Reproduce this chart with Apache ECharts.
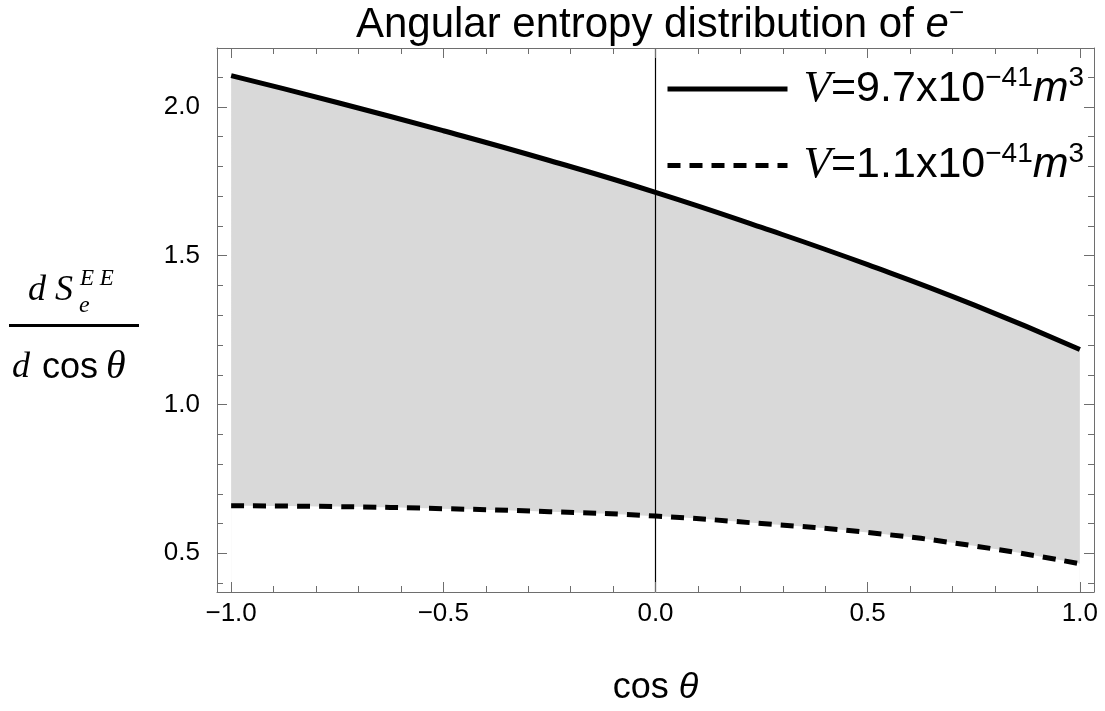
<!DOCTYPE html>
<html>
<head>
<meta charset="utf-8">
<script src="https://cdn.jsdelivr.net/npm/echarts@6/dist/echarts.min.js"></script>
<style>html,body{margin:0;padding:0;background:#fff}#c{width:1105px;height:711px}</style>
</head>
<body>
<div id="c"></div>
<script>
const xVals = [-1, -0.75, -0.5, -0.25, 0, 0.25, 0.5, 0.75, 1];
const upperV = [2.105, 2.015, 1.92, 1.82, 1.713, 1.595, 1.47, 1.335, 1.185];
const lowerV = [0.66, 0.657, 0.65, 0.64, 0.625, 0.60, 0.57, 0.525, 0.465];
const xMajor = [-1, -0.5, 0, 0.5, 1];
const xMinor = [-0.9, -0.8, -0.7, -0.6, -0.4, -0.3, -0.2, -0.1, 0.1, 0.2, 0.3, 0.4, 0.6, 0.7, 0.8, 0.9];
const yMajor = [0.5, 1.0, 1.5, 2.0];
const yMinor = [0.4, 0.6, 0.7, 0.8, 0.9, 1.1, 1.2, 1.3, 1.4, 1.6, 1.7, 1.8, 1.9, 2.1];
const seriesNames = ['solid', 'dashed'];

const XMIN = -1.0333, XMAX = 1.0333, YMIN = 0.37, YMAX = 2.198;
const frameColor = '#6e6e6e';
const chart = echarts.init(document.getElementById('c'));

function xAx(pos, ticks, len, showLine, labels) {
  return {
    type: 'value', position: pos, min: XMIN, max: XMAX, z: 6,
    axisLine: {show: showLine, onZero: false, lineStyle: {color: frameColor, width: 1}},
    axisTick: {show: true, inside: true, length: len, customValues: ticks, lineStyle: {color: frameColor, width: 1}},
    axisLabel: labels ? {show: true, customValues: ticks, margin: 9, color: '#000', fontSize: 26, fontFamily: 'Liberation Sans',
      formatter: v => v.toFixed(1).replace('-', '\u2212')} : {show: false},
    splitLine: {show: false}
  };
}
function yAx(pos, ticks, len, showLine, labels) {
  return {
    type: 'value', position: pos, min: YMIN, max: YMAX, z: 6,
    axisLine: {show: showLine, onZero: false, lineStyle: {color: frameColor, width: 1}},
    axisTick: {show: true, inside: true, length: len, customValues: ticks, lineStyle: {color: frameColor, width: 1}},
    axisLabel: labels ? {show: true, customValues: ticks, margin: 17, color: '#000', fontSize: 26, fontFamily: 'Liberation Sans',
      formatter: v => v.toFixed(1)} : {show: false},
    splitLine: {show: false}
  };
}

const xAxes = [xAx('bottom', xMajor, 10, true, true), xAx('bottom', xMinor, 6, false, false),
               xAx('top', xMajor, 10, true, false), xAx('top', xMinor, 6, false, false)];
xAxes[0].name = '{c|cos }{t|\u03b8}';
xAxes[0].nameLocation = 'middle';
xAxes[0].nameGap = 78;
xAxes[0].nameTextStyle = {rich: {
  c: {fontFamily: 'Liberation Sans', fontSize: 36, color: '#000'},
  t: {fontFamily: 'Liberation Sans', fontStyle: 'italic', fontSize: 36, color: '#000'}
}};
const yAxes = [yAx('left', yMajor, 10, true, true), yAx('left', yMinor, 6, false, false),
               yAx('right', yMajor, 10, true, false), yAx('right', yMinor, 6, false, false)];

const pts = arr => xVals.map((x, i) => [x, arr[i]]);

const legendRich = {
  v: {fontFamily: 'Liberation Serif', fontStyle: 'italic', fontSize: 45, color: '#000', lineHeight: 50},
  n: {fontFamily: 'Liberation Sans', fontSize: 43, color: '#000', lineHeight: 50},
  m: {fontFamily: 'Liberation Sans', fontStyle: 'italic', fontSize: 43, color: '#000', lineHeight: 50},
  s: {fontFamily: 'Liberation Sans', fontSize: 28, color: '#000', lineHeight: 33, verticalAlign: 'top'}
};

chart.setOption({
  animation: false,
  backgroundColor: '#fff',
  title: {
    text: '{a|Angular entropy distribution of }{e|e}{s|\u2212}',
    left: 655, top: -4, textAlign: 'center',
    textStyle: {fontWeight: 'normal', rich: {
      a: {fontFamily: 'Liberation Sans', fontWeight: 'normal', fontSize: 42, color: '#000', lineHeight: 48},
      e: {fontFamily: 'Liberation Sans', fontWeight: 'normal', fontStyle: 'italic', fontSize: 42, color: '#000', lineHeight: 48},
      s: {fontFamily: 'Liberation Sans', fontWeight: 'normal', fontSize: 26, color: '#000', lineHeight: 32, verticalAlign: 'top'}
    }}
  },
  grid: {left: 217, right: 11, top: 48, bottom: 119, containLabel: false},
  legend: {
    orient: 'vertical', left: 660, top: 59, itemWidth: 120, itemHeight: 14, itemGap: 29,
    data: seriesNames,
    itemStyle: {opacity: 0},
    lineStyle: {width: 5},
    formatter: n => n === 'solid' ? '{v|V}{n|=9.7x10}{s|\u221241}{m|m}{s|3}' : '{v|V}{n|=1.1x10}{s|\u221241}{m|m}{s|3}',
    textStyle: {rich: legendRich, padding: [0, 0, 0, 11]}
  },
  xAxis: xAxes,
  yAxis: yAxes,
  series: [
    {type: 'line', name: 'fillUpper', data: pts(upperV), smooth: true, symbol: 'none',
     lineStyle: {opacity: 0}, areaStyle: {color: '#d9d9d9', opacity: 1, origin: 'start'}, silent: true, z: 1},
    {type: 'line', name: 'fillLower', data: pts(lowerV), smooth: true, symbol: 'none',
     lineStyle: {opacity: 0}, areaStyle: {color: '#ffffff', opacity: 1, origin: 'start'}, silent: true, z: 2},
    {type: 'line', name: 'solid', data: pts(upperV), smooth: true, symbol: 'none',
     lineStyle: {color: '#000', width: 5}, itemStyle: {color: '#000'}, z: 3,
     markLine: {silent: true, symbol: 'none', label: {show: false}, z: 4,
       lineStyle: {color: '#000', width: 1.2, type: 'solid'}, data: [{xAxis: 0}]}},
    {type: 'line', name: 'dashed', data: pts(lowerV), smooth: true, symbol: 'none',
     lineStyle: {color: '#000', width: 5, type: [13, 9]}, itemStyle: {color: '#000'}, z: 3}
  ],
  graphic: [
    {type: 'text', left: 28, top: 273, style: {text: 'd S', font: 'italic 36px "Liberation Serif"', fill: '#000'}},
    {type: 'text', left: 80, top: 267, style: {text: 'E E', font: 'italic 23px "Liberation Serif"', fill: '#000'}},
    {type: 'text', left: 79, top: 294, style: {text: 'e', font: 'italic 24px "Liberation Serif"', fill: '#000'}},
    {type: 'rect', shape: {x: 9, y: 324, width: 130, height: 3}, style: {fill: '#000'}},
    {type: 'text', left: 12, top: 350, style: {text: 'd', font: 'italic 36px "Liberation Serif"', fill: '#000'}},
    {type: 'text', left: 42, top: 350, style: {text: 'cos', font: '36px "Liberation Sans"', fill: '#000'}},
    {type: 'text', left: 106, top: 347, style: {text: '\u03b8', font: 'italic 40px "Liberation Serif"', fill: '#000'}}
  ]
});
</script>
</body>
</html>
